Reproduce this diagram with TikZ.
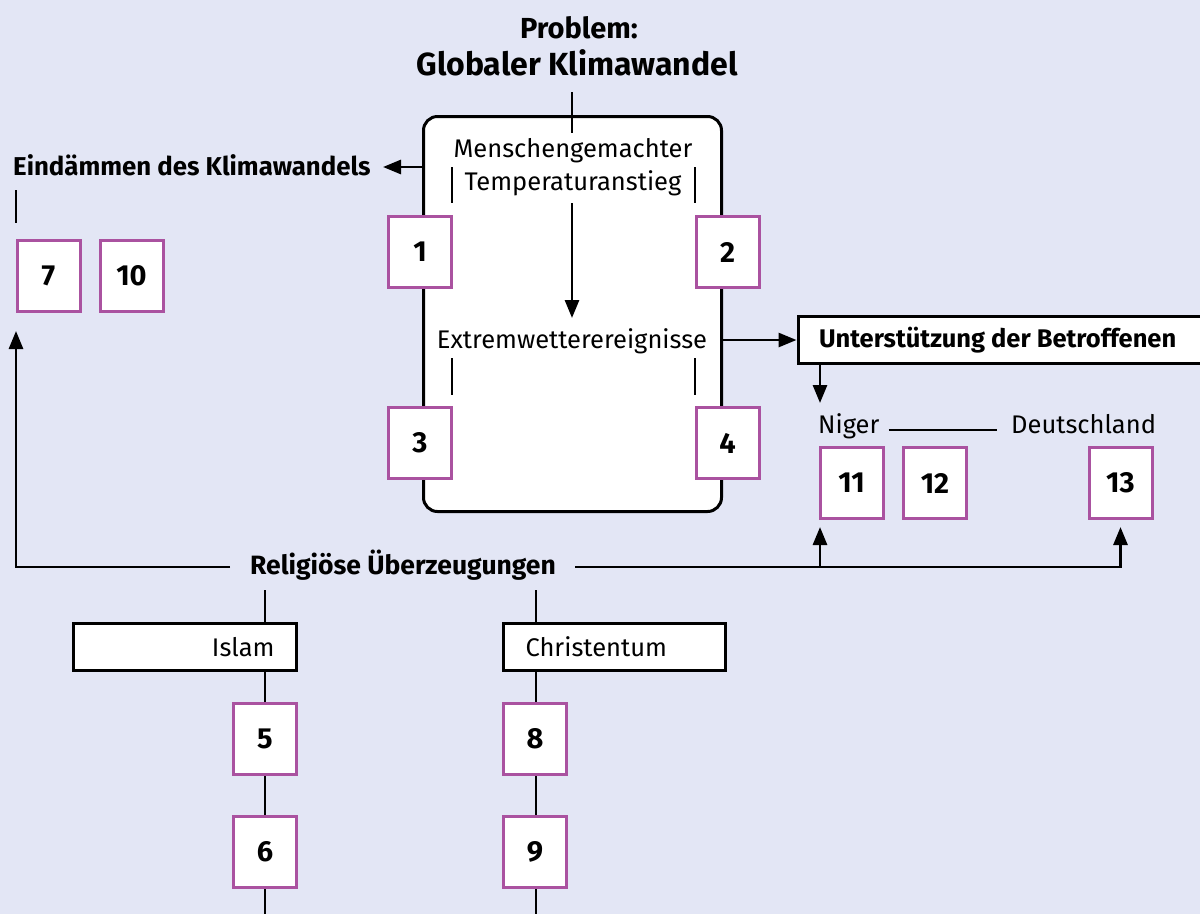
\documentclass[tikz,border=0pt]{standalone}
\usepackage{fontspec}
\setmainfont{Fira Sans}
\usetikzlibrary{arrows.meta}
\definecolor{bg}{RGB}{227,230,245}
\definecolor{mag}{RGB}{170,82,160}
\begin{document}
\begin{tikzpicture}[x=1pt,y=-1pt,
  ln/.style={line width=2.8pt},
  arr/.style={line width=2.8pt,-{Triangle[length=18pt,width=14pt]}},
  num/.style={draw=mag,line width=3pt,fill=white,minimum width=63pt,minimum height=71pt,inner sep=0pt,font=\fontsize{29}{29}\selectfont\bfseries},
  txt/.style={inner sep=0pt,font=\fontsize{25.5}{25.5}\selectfont},
  btxt/.style={inner sep=0pt,font=\fontsize{25.8}{25.8}\selectfont\bfseries},
  wbox/.style={draw,line width=3pt,fill=white,inner ysep=0pt,minimum height=47pt,font=\fontsize{25.5}{25.5}\selectfont}
]
\fill[bg] (0,0) rectangle (1200,914);
\useasboundingbox (0,0) rectangle (1200,914);

% title
\node[inner sep=0pt,font=\fontsize{29}{29}\selectfont\bfseries,anchor=base] (prob) at (579,38) {Problem:};
\node[inner sep=0pt,font=\fontsize{32}{32}\selectfont\bfseries,anchor=base] (title) at (577,75) {Globaler Klimawandel};

% main box
\node[draw,line width=3pt,rounded corners=14pt,fill=white,minimum width=298pt,minimum height=395pt,inner sep=0pt] (main) at (572.5,314) {};

\node[txt,anchor=base] (m1) at (573,157) {Menschengemachter};
\node[txt,anchor=base] (m2) at (573,190) {Temperaturanstieg};
\node[txt,anchor=base] (ext) at (572,348) {Extremwetterereignisse};

\coordinate (t0) at (572,92);
\coordinate (t1) at (572,133);
\draw[ln] (t0) -- (t1);
\coordinate (a0) at (572,203);
\coordinate (a1) at (572,318);
\draw[arr] (a0) -- (a1);

% ticks inside
\coordinate (k1a) at (452,167); \coordinate (k1b) at (452,203);
\coordinate (k2a) at (695,167); \coordinate (k2b) at (695,203);
\coordinate (k3a) at (452,358); \coordinate (k3b) at (452,395);
\coordinate (k4a) at (695,358); \coordinate (k4b) at (695,395);
\draw[ln] (k1a) -- (k1b);
\draw[ln] (k2a) -- (k2b);
\draw[ln] (k3a) -- (k3b);
\draw[ln] (k4a) -- (k4b);

\node[num] (b1) at (420,252) {1};
\node[num] (b2) at (727.5,252) {2};
\node[num] (b3) at (420,443) {3};
\node[num] (b4) at (727.5,443) {4};

% left: Eindaemmen
\node[btxt,anchor=base west] (eind) at (13,175) {Eindämmen des Klimawandels};
\coordinate (e2) at (383,167);
\draw[arr] (main.west |- e2) -- (e2);
\coordinate (k7a) at (16,190); \coordinate (k7b) at (16,223);
\draw[ln] (k7a) -- (k7b);
\node[num] (b7) at (48.5,275.5) {7};
\node[num] (b10) at (131.5,275.5) {10};

% right: Unterstuetzung
\node[wbox,anchor=west,inner xsep=21pt,font=\fontsize{25.5}{25.5}\selectfont\bfseries] (unt) at (796.5,340) {\makebox[361pt][l]{Unterstützung der Betroffenen}};
\draw[arr] (main.east |- unt.west) -- (unt.west);
\coordinate (nd) at (820,403);
\draw[arr] (unt.south -| nd) -- (nd);

\node[txt,anchor=base west] (nig) at (818,433) {Niger};
\node[txt,anchor=base west] (deu) at (1011,433) {Deutschland};
\draw[ln] ([xshift=9pt,yshift=3pt]nig.base east) -- ([xshift=-14pt,yshift=3pt]deu.base west);

\node[num] (b11) at (851.5,483) {11};
\node[num] (b12) at (935,483) {12};
\node[num] (b13) at (1120.5,483) {13};

% religion
\node[btxt,anchor=base west,font=\fontsize{26.5}{26.5}\selectfont\bfseries] (rel) at (250,574) {Religiöse Überzeugungen};
\coordinate (rl) at (230,567);
\coordinate (up7) at (16,331);
\draw[arr] (rl) -| (up7);
\coordinate (rr) at (575,567);
\draw[arr] (rr) -| ([yshift=-7pt]b13.south);
\draw[arr] (nd |- rr) -- ([yshift=-7pt]nd |- b11.south);

\node[wbox,text width=179pt,inner xsep=22pt,align=right] (isl) at (185,647) {Islam};
\node[wbox,text width=178pt,inner xsep=22pt,align=left] (chr) at (614.5,647) {Christentum};

\node[num] (b5) at (265,739) {5};
\node[num] (b6) at (265,852) {6};
\node[num] (b8) at (535,739) {8};
\node[num] (b9) at (535,852) {9};

\coordinate (ri) at (265,590);
\coordinate (rc) at (536,590);
\coordinate (bi) at (265,914);
\coordinate (bc) at (536,914);
\draw[ln] (ri) -- (ri |- isl.north);
\draw[ln] (isl.south -| ri) -- (b5.north);
\draw[ln] (b5.south) -- (b6.north);
\draw[ln] (b6.south) -- (bi);
\draw[ln] (rc) -- (rc |- chr.north);
\draw[ln] (chr.south -| rc) -- (rc |- b8.north);
\draw[ln] (rc |- b8.south) -- (rc |- b9.north);
\draw[ln] (rc |- b9.south) -- (bc);
\end{tikzpicture}
\end{document}
